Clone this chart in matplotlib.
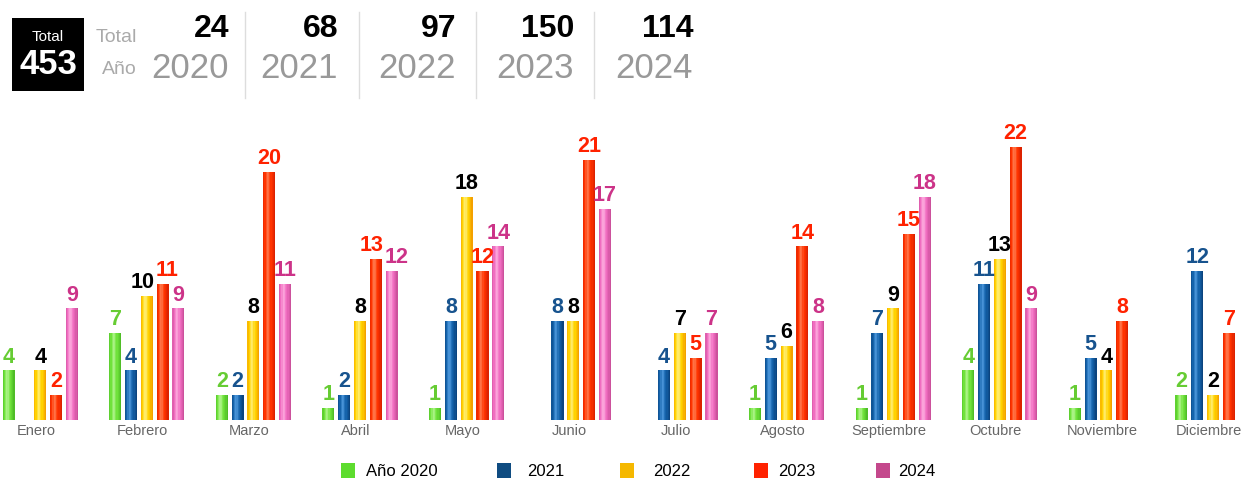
import matplotlib
matplotlib.use("Agg")
import matplotlib.pyplot as plt
from matplotlib.patches import Rectangle
from matplotlib.colors import to_rgb
import numpy as np

plt.rcParams['font.family'] = ['Liberation Sans', 'DejaVu Sans']

months = ["Enero", "Febrero", "Marzo", "Abril", "Mayo", "Junio", "Julio",
          "Agosto", "Septiembre", "Octubre", "Noviembre", "Diciembre"]
years = ["2020", "2021", "2022", "2023", "2024"]
legend_labels = ["Año 2020", "2021", "2022", "2023", "2024"]
v2020 = [4, 7, 2, 1, 1, 0, 0, 1, 1, 4, 1, 2]
v2021 = [0, 4, 2, 2, 8, 8, 4, 5, 7, 11, 5, 12]
v2022 = [4, 10, 8, 8, 18, 8, 7, 6, 9, 13, 4, 2]
v2023 = [2, 11, 20, 13, 12, 21, 5, 14, 15, 22, 8, 7]
v2024 = [9, 9, 11, 12, 14, 17, 7, 8, 18, 9, 0, 0]
series = [v2020, v2021, v2022, v2023, v2024]
year_totals = [sum(s) for s in series]
grand_total = sum(year_totals)

base_cols = ["#6ee23a", "#1462aa", "#ffd200", "#ff3300", "#f06cc0"]
light_cols = ["#c0f8a0", "#5aa4e8", "#fff590", "#ff8a60", "#ffb8e4"]
dark_cols = ["#44b020", "#083a70", "#f09000", "#d01c00", "#c04890"]
label_cols = ["#66cc33", "#17538e", "#000000", "#ff2200", "#cc3388"]
legend_cols = ["#5ddc2e", "#0f4c81", "#f5b800", "#ff2200", "#c4488c"]

W, H = 1249, 483
fig = plt.figure(figsize=(W / 100, H / 100), dpi=100)

def fx(px):
    return px / W

def fy(py):
    return 1 - py / H

def mix(c1, c2, t):
    a, b = np.array(to_rgb(c1)), np.array(to_rgb(c2))
    return tuple(a + (b - a) * t)

def shade(t):
    hi = 0.75 * np.exp(-((t - 0.38) / 0.16) ** 2)
    lo = 0.9 * max(0.0, (t - 0.62) / 0.38) ** 1.3 + 0.5 * max(0.0, (0.18 - t) / 0.18)
    return hi - lo

# ---- chart axes (pixel-calibrated) ----
x0, step = 40.2, 106.62
ax_bottom_px, ax_top_px = 420, 110
unit_px = 12.4
ax = fig.add_axes([0, fy(ax_bottom_px), 1, (ax_bottom_px - ax_top_px) / H])
ax.set_xlim((0 - x0) / step, (W - x0) / step)
ax.set_ylim(0, (ax_bottom_px - ax_top_px) / unit_px)
ax.axis('off')

idx = np.arange(len(months))
gap_px = 15.8
off = gap_px / step
bw = 12.0 / step
nstrip = 10
fs_val = 15.5
fs_px = fs_val * 100 / 72

# horizontal nudges (in px) so adjacent labels at similar heights do not collide
nudge = np.zeros((len(series), len(months)))
for m in range(len(months)):
    for k in range(len(series) - 1):
        a, b = series[k][m], series[k + 1][m]
        if a > 0 and b > 0 and abs(a - b) * unit_px < fs_px * 0.8:
            w1 = len(str(a)) * 0.556 * fs_px
            w2 = len(str(b)) * 0.556 * fs_px
            ov = (w1 + w2) / 2 - gap_px
            if ov > 0:
                nudge[k, m] -= ov / 2 + 0.6
                nudge[k + 1, m] += ov / 2 + 0.6

for k, vals in enumerate(series):
    xs = idx + (k - 2) * off
    vals = np.array(vals)
    for j in range(nstrip):
        t = (j + 0.5) / nstrip
        s = shade(t)
        col = mix(base_cols[k], light_cols[k], s) if s >= 0 else mix(base_cols[k], dark_cols[k], min(1, -s))
        ax.bar(xs - bw / 2 + (j + 0.5) * bw / nstrip, vals, width=bw / nstrip * 1.05,
               color=col, linewidth=0, zorder=2)
    for m, (xv, v) in enumerate(zip(xs, vals)):
        if v > 0:
            ax.annotate(str(v), (xv, v), xytext=(nudge[k, m] * 0.72, 2),
                        textcoords='offset points',
                        ha='center', va='bottom', fontsize=fs_val, fontweight='bold',
                        color=label_cols[k], zorder=5, annotation_clip=False)

for i, m in enumerate(months):
    ax.text(i - 4 / step, -11 / unit_px, m, ha='center', va='center', fontsize=10.5,
            color='#666666')

# ---- header ----
fig.patches.append(Rectangle((fx(12), fy(91)), fx(84) - fx(12), fy(18) - fy(91),
                             transform=fig.transFigure, facecolor='black', edgecolor='none'))
fig.text(fx(48), fy(37), "Total", ha='center', va='center', fontsize=11, color='white')
fig.text(fx(48), fy(65), str(grand_total), ha='center', va='center', fontsize=25,
         fontweight='bold', color='white')
fig.text(fx(137), fy(37), "Total", ha='right', va='center', fontsize=14, color='#aaaaaa')
fig.text(fx(137), fy(70), "Año", ha='right', va='center', fontsize=14, color='#aaaaaa')

col_right = [229, 338, 456, 574, 693]
for r, yr, tot in zip(col_right, years, year_totals):
    fig.text(fx(r), fy(29), str(tot), ha='right', va='center', fontsize=23,
             fontweight='bold', color='black')
    fig.text(fx(r), fy(68), yr, ha='right', va='center', fontsize=25, color='#999999')
for sx in [245, 359, 476, 594]:
    fig.add_artist(plt.Line2D([fx(sx), fx(sx)], [fy(12), fy(98)], transform=fig.transFigure,
                              color='#dddddd', linewidth=1))

# ---- legend ----
sq_left = [341, 497, 620, 754, 876]
txt_left = [366, 527, 653, 778, 898]
for sl, tl, lab, c in zip(sq_left, txt_left, legend_labels, legend_cols):
    fig.patches.append(Rectangle((fx(sl), fy(478)), fx(14), 15 / H,
                                 transform=fig.transFigure, facecolor=c, edgecolor='none'))
    fig.text(fx(tl), fy(471), lab, ha='left', va='center', fontsize=12, color='black')

fig.savefig("out.png", dpi=100)
